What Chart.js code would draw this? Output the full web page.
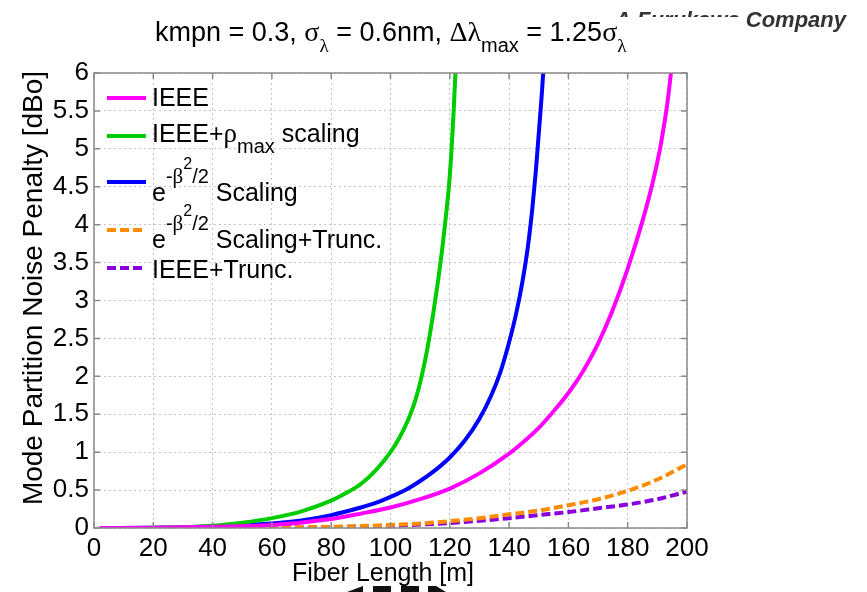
<!DOCTYPE html>
<html>
<head>
<meta charset="utf-8">
<script src="https://cdn.jsdelivr.net/npm/chart.js@4.4.1/dist/chart.umd.min.js"></script>
<style>
  html, body { margin: 0; padding: 0; background: #fff; }
</style>
</head>
<body>
<canvas id="mpnChart" width="867" height="592"></canvas>
<script>
// Fiber length [m] / penalty [dBo] pairs
const ieeeLen = [2, 20, 40, 60, 80, 90, 100, 110, 120, 130, 140, 145, 150, 155, 160, 165, 170, 175, 180, 185, 188.4, 190.9, 192, 193.2, 194, 194.7, 195.5];
const ieeePen = [0, 0.003, 0.015, 0.04, 0.12, 0.19, 0.27, 0.38, 0.52, 0.72, 0.98, 1.14, 1.32, 1.54, 1.78, 2.07, 2.43, 2.88, 3.42, 4.05, 4.55, 5.0, 5.25, 5.55, 5.8, 6.05, 6.4];

const rhoLen = [2, 20, 40, 50, 60, 70, 80, 85, 90, 95, 100, 103, 106, 108.5, 110.5, 112.5, 114.5, 116, 117.5, 118.8, 119.8, 120.6, 121.3, 121.9, 122.5];
const rhoPen = [0, 0.004, 0.03, 0.07, 0.13, 0.22, 0.36, 0.46, 0.58, 0.76, 1.0, 1.19, 1.43, 1.7, 2.0, 2.38, 2.85, 3.25, 3.7, 4.15, 4.55, 5.0, 5.5, 6.0, 6.6];

const betaLen = [2, 20, 40, 60, 70, 80, 90, 95, 100, 105, 110, 115, 120, 125, 130, 134, 137, 140, 142.5, 144.5, 146.3, 147.8, 149, 150, 150.8, 151.5, 152.3];
const betaPen = [0, 0.004, 0.02, 0.06, 0.1, 0.17, 0.27, 0.33, 0.41, 0.5, 0.62, 0.76, 0.93, 1.15, 1.44, 1.75, 2.05, 2.45, 2.85, 3.25, 3.7, 4.2, 4.7, 5.2, 5.6, 6.0, 6.6];

const truncLen = [2, 20, 40, 60, 80, 90, 100, 110, 120, 130, 140, 150, 160, 170, 180, 190, 200];
const betaTruncPen = [0, 0.0005, 0.002, 0.006, 0.015, 0.025, 0.04, 0.06, 0.09, 0.13, 0.18, 0.23, 0.3, 0.38, 0.49, 0.64, 0.84];
const ieeeTruncPen = [0, 0.0005, 0.002, 0.005, 0.012, 0.02, 0.03, 0.045, 0.065, 0.095, 0.13, 0.17, 0.21, 0.26, 0.31, 0.38, 0.48];

const xTicks = [0, 20, 40, 60, 80, 100, 120, 140, 160, 180, 200];
const yTicks = [0, 0.5, 1, 1.5, 2, 2.5, 3, 3.5, 4, 4.5, 5, 5.5, 6];

const SANS = '"Liberation Sans", Arial, sans-serif';
const SERIF = '"Liberation Serif", "Times New Roman", serif';

function pts(xs, ys) {
    return xs.map((x, i) => ({ x: x, y: ys[i] }));
}

// draws a run of text pieces (for sub/superscripts)
function drawParts(ctx, x, y, parts) {
    parts.forEach(p => {
        ctx.font = p.s + 'px ' + (p.serif ? SERIF : SANS);
        ctx.fillText(p.t, x, y + (p.dy || 0));
        x += ctx.measureText(p.t).width;
    });
}

const sup = (rest) => [
    { t: 'e', s: 25 },
    { t: '-', s: 20, dy: -18 },
    { t: 'β', s: 21, dy: -18, serif: true },
    { t: '2', s: 16, dy: -32 },
    { t: '/2', s: 20, dy: -18 },
    { t: rest, s: 25 }
];

const legendItems = [
    { ds: 0, lineY: 98, baseY: 106, parts: [{ t: 'IEEE', s: 25 }] },
    { ds: 1, lineY: 136, baseY: 142, parts: [{ t: 'IEEE+', s: 25 }, { t: 'ρ', s: 27, serif: true }, { t: 'max', s: 20, dy: 11 }, { t: ' scaling', s: 25 }] },
    { ds: 2, lineY: 182, baseY: 201, parts: sup(' Scaling') },
    { ds: 3, lineY: 230, baseY: 248, parts: sup(' Scaling+Trunc.') },
    { ds: 4, lineY: 268, baseY: 278, parts: [{ t: 'IEEE+Trunc.', s: 25 }] }
];

const decorPlugin = {
    id: 'decor',
    afterDatasetsDraw(chart) {
        const { ctx, chartArea: a, scales: { x, y } } = chart;
        ctx.save();
        // axes box + inward ticks
        ctx.strokeStyle = '#8a8a8a';
        ctx.lineWidth = 1.5;
        ctx.strokeRect(a.left, a.top, a.right - a.left, a.bottom - a.top);
        ctx.beginPath();
        xTicks.forEach(v => {
            const px = x.getPixelForValue(v);
            ctx.moveTo(px, a.bottom); ctx.lineTo(px, a.bottom - 6);
            ctx.moveTo(px, a.top); ctx.lineTo(px, a.top + 6);
        });
        yTicks.forEach(v => {
            const py = y.getPixelForValue(v);
            ctx.moveTo(a.left, py); ctx.lineTo(a.left + 6, py);
            ctx.moveTo(a.right, py); ctx.lineTo(a.right - 6, py);
        });
        ctx.stroke();

        // legend
        ctx.fillStyle = '#000';
        ctx.textBaseline = 'alphabetic';
        ctx.textAlign = 'left';
        legendItems.forEach(item => {
            const ds = chart.data.datasets[item.ds];
            ctx.strokeStyle = ds.borderColor;
            ctx.lineWidth = 4;
            ctx.setLineDash(ds.borderDash || []);
            ctx.beginPath();
            ctx.moveTo(107, item.lineY);
            ctx.lineTo(146, item.lineY);
            ctx.stroke();
            ctx.setLineDash([]);
            drawParts(ctx, 152, item.baseY, item.parts);
        });

        // axis titles
        ctx.font = '25px ' + SANS;
        ctx.textAlign = 'center';
        ctx.fillText('Fiber Length [m]', 383, 581);
        ctx.save();
        ctx.translate(42, 288);
        ctx.rotate(-Math.PI / 2);
        ctx.font = '28px ' + SANS;
        ctx.fillText('Mode Partition Noise Penalty [dBo]', 0, 0);
        ctx.restore();

        // company tag, partly covered
        ctx.fillStyle = '#333';
        ctx.textAlign = 'right';
        ctx.font = 'italic bold 22px ' + SANS;
        ctx.fillText('A Furukawa Company', 846, 27);
        ctx.fillStyle = '#fff';
        ctx.fillRect(590, 17, 153, 30);
        ctx.fillRect(590, 0, 260, 8);

        // title
        ctx.fillStyle = '#000';
        ctx.textAlign = 'left';
        drawParts(ctx, 155, 41, [
            { t: 'kmpn = 0.3, ', s: 27 },
            { t: 'σ', s: 28, serif: true },
            { t: 'λ', s: 19, dy: 11, serif: true },
            { t: ' = 0.6nm, ', s: 27 },
            { t: 'Δλ', s: 28, serif: true },
            { t: 'max', s: 20, dy: 11 },
            { t: ' = 1.25', s: 27 },
            { t: 'σ', s: 28, serif: true },
            { t: 'λ', s: 19, dy: 11, serif: true }
        ]);

        // logo remnants at the bottom edge
        ctx.fillStyle = '#111';
        ctx.beginPath();
        ctx.moveTo(347, 592); ctx.lineTo(363, 586); ctx.lineTo(363, 592); ctx.fill();
        ctx.fillRect(373, 586, 18, 6);
        ctx.fillRect(401, 586, 18, 6);
        ctx.beginPath();
        ctx.moveTo(428, 586); ctx.lineTo(436, 586); ctx.lineTo(446, 592); ctx.lineTo(428, 592); ctx.fill();
        ctx.restore();
    }
};

Chart.defaults.color = '#000';
Chart.defaults.font.family = SANS;

const lineStyle = {
    borderWidth: 4,
    pointRadius: 0,
    fill: false,
    cubicInterpolationMode: 'monotone',
    clip: 0
};

new Chart(document.getElementById('mpnChart').getContext('2d'), {
    type: 'line',
    data: {
        datasets: [
            { ...lineStyle, label: 'IEEE', data: pts(ieeeLen, ieeePen), borderColor: '#ff00ff' },
            { ...lineStyle, label: 'IEEE+rho_max scaling', data: pts(rhoLen, rhoPen), borderColor: '#00cc00' },
            { ...lineStyle, label: 'e^-b2/2 Scaling', data: pts(betaLen, betaPen), borderColor: '#0000ff' },
            { ...lineStyle, label: 'e^-b2/2 Scaling+Trunc.', data: pts(truncLen, betaTruncPen), borderColor: '#ff8c00', borderDash: [9, 4] },
            { ...lineStyle, label: 'IEEE+Trunc.', data: pts(truncLen, ieeeTruncPen), borderColor: '#8a00dd', borderDash: [9, 4] }
        ]
    },
    options: {
        responsive: false,
        animation: false,
        layout: { padding: { top: 73, right: 180, left: 0, bottom: 0 } },
        plugins: {
            legend: { display: false },
            tooltip: { enabled: false }
        },
        scales: {
            x: {
                type: 'linear',
                min: 0,
                max: 200,
                afterBuildTicks: (s) => { s.ticks = xTicks.map(v => ({ value: v })); },
                afterFit: (s) => { s.height = 64; },
                grid: { color: '#c4c4c4', lineWidth: 1, drawTicks: false },
                border: { display: false, dash: [2, 3] },
                ticks: { font: { size: 26 }, padding: 5, maxRotation: 0, callback: (v) => String(v) }
            },
            y: {
                type: 'linear',
                min: 0,
                max: 6,
                afterBuildTicks: (s) => { s.ticks = yTicks.map(v => ({ value: v })); },
                afterFit: (s) => { s.width = 94; },
                grid: { color: '#c4c4c4', lineWidth: 1, drawTicks: false },
                border: { display: false, dash: [2, 3] },
                ticks: { font: { size: 26 }, padding: 5, callback: (v) => String(v) }
            }
        }
    },
    plugins: [decorPlugin]
});
</script>
</body>
</html>
